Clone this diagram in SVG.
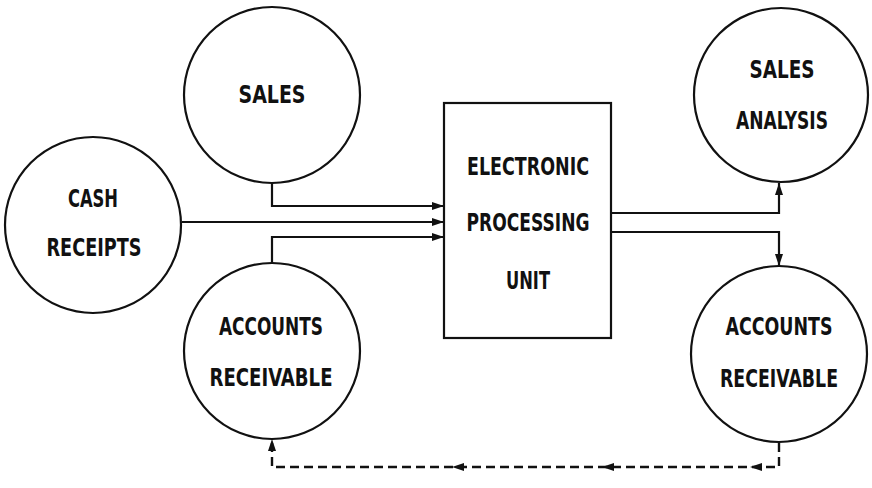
<svg xmlns="http://www.w3.org/2000/svg" width="872" height="488" viewBox="0 0 872 488">
  <style>
    .node { fill: #fff; stroke: #111; stroke-width: 2.2; }
    .lbl { font-family: "DejaVu Sans Condensed", "Liberation Sans", sans-serif; font-size: 24px; font-weight: bold; fill: #111; text-anchor: middle; }
    .flow { fill: none; stroke: #111; stroke-width: 2.2; }
    .dash { fill: none; stroke: #111; stroke-width: 2.4; stroke-dasharray: 9 5; }
  </style>
  <defs>
    <marker id="arrow" viewBox="0 0 12 8" refX="12" refY="4" markerWidth="12" markerHeight="8" markerUnits="userSpaceOnUse" orient="auto">
      <path d="M0,0 L12,4 L0,8 z" fill="#111"/>
    </marker>
  </defs>
  <rect width="872" height="488" fill="#fff"/>

  <!-- data flows -->
  <g id="connectors">
    <path class="flow" d="M272,183 V206 H444" marker-end="url(#arrow)"/>
    <path class="flow" d="M182,222 H444" marker-end="url(#arrow)"/>
    <path class="flow" d="M272,263 V237 H444" marker-end="url(#arrow)"/>
    <path class="flow" d="M611,213 H779 V183" marker-end="url(#arrow)"/>
    <path class="flow" d="M611,232 H779 V266" marker-end="url(#arrow)"/>
    <!-- dashed feedback loop -->
    <path class="dash" d="M779,443 V467 H272 V439" marker-end="url(#arrow)"/>
    <path d="M762,463 L750,467 L762,471 z" fill="#111"/>
    <path d="M614,463 L602,467 L614,471 z" fill="#111"/>
    <path d="M464,463 L452,467 L464,471 z" fill="#111"/>
  </g>

  <g id="sales">
    <circle class="node" cx="272" cy="95" r="88"/>
    <text class="lbl" x="272" y="103" textLength="67" lengthAdjust="spacingAndGlyphs">SALES</text>
  </g>

  <g id="cash-receipts">
    <circle class="node" cx="93" cy="225" r="88"/>
    <text class="lbl" x="93" y="207" textLength="50" lengthAdjust="spacingAndGlyphs">CASH</text>
    <text class="lbl" x="94" y="256" textLength="95" lengthAdjust="spacingAndGlyphs">RECEIPTS</text>
  </g>

  <g id="accounts-receivable-in">
    <circle class="node" cx="272" cy="351" r="88"/>
    <text class="lbl" x="271" y="335" textLength="104" lengthAdjust="spacingAndGlyphs">ACCOUNTS</text>
    <text class="lbl" x="271" y="386" textLength="123" lengthAdjust="spacingAndGlyphs">RECEIVABLE</text>
  </g>

  <g id="processing-unit">
    <rect class="node" x="444" y="103" width="167" height="235"/>
    <text class="lbl" x="528" y="175" textLength="122" lengthAdjust="spacingAndGlyphs">ELECTRONIC</text>
    <text class="lbl" x="528" y="231" textLength="123" lengthAdjust="spacingAndGlyphs">PROCESSING</text>
    <text class="lbl" x="528" y="289" textLength="44" lengthAdjust="spacingAndGlyphs">UNIT</text>
  </g>

  <g id="sales-analysis">
    <circle class="node" cx="781" cy="95" r="87"/>
    <text class="lbl" x="782" y="78" textLength="65" lengthAdjust="spacingAndGlyphs">SALES</text>
    <text class="lbl" x="782" y="129" textLength="92" lengthAdjust="spacingAndGlyphs">ANALYSIS</text>
  </g>

  <g id="accounts-receivable-out">
    <circle class="node" cx="779" cy="354" r="88"/>
    <text class="lbl" x="779" y="335" textLength="107" lengthAdjust="spacingAndGlyphs">ACCOUNTS</text>
    <text class="lbl" x="779" y="387" textLength="118" lengthAdjust="spacingAndGlyphs">RECEIVABLE</text>
  </g>
</svg>
